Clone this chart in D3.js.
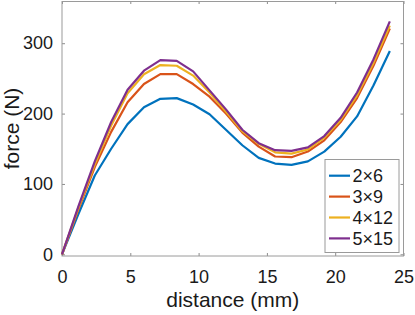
<!DOCTYPE html>
<html>
<head>
<meta charset="utf-8">
<script src="https://cdn.jsdelivr.net/npm/d3@7"></script>
<style>
body { margin: 0; background: #fff; }
text { font-family: "Liberation Sans", Arial, sans-serif; fill: #1a1a1a; }
</style>
</head>
<body>
<div id="chart"></div>
<script>
// Data
var distance    =   [ 0, 1.2, 2.4, 3.6, 4.8, 6.0, 7.2, 8.4, 9.6, 10.8, 12.0, 13.2, 14.4, 15.6, 16.8, 18.0, 19.2, 20.4, 21.6, 22.8, 24.0 ];
var force_2x6   =   [ 0, 57, 112, 150, 185, 209, 221, 222, 213, 199, 177, 155, 137, 129, 127, 132, 146, 167, 196, 240, 289 ];
var force_3x9   =   [ 0, 64, 124, 174, 216, 242, 256, 256, 242, 224, 200, 173, 153, 139, 138, 146, 162, 188, 222, 268, 321 ];
var force_4x12  =   [ 0, 66, 128, 183, 229, 256, 269, 268, 254, 230, 203, 175, 157, 145, 143, 149, 166, 191, 226, 272, 325 ];
var force_5x15  =   [ 0, 68, 132, 188, 234, 261, 276, 275, 260, 233, 206, 177, 158, 148, 147, 152, 168, 194, 230, 277, 331 ];
var names       =   [ "2×6", "3×9", "4×12", "5×15" ];
var colors      =   [ "#0072BD", "#D95319", "#EDB120", "#7E2F8E" ];
var x_ticks     =   [ 0, 5, 10, 15, 20, 25 ];
var y_ticks     =   [ 0, 100, 200, 300 ];

var series      =   [ force_2x6, force_3x9, force_4x12, force_5x15 ];

var chart_width     =   415;
var chart_height    =   315;
var plot_left = 62, plot_right = 403.5, plot_top = 1, plot_bottom = 256;

// Scales
var x_scale = d3.scaleLinear().domain([ 0, 25 ]).range([ plot_left, plot_right ]);
var y_scale = d3.scaleLinear().domain([ -2.4, 360 ]).range([ plot_bottom, plot_top ]);

// Create SVG
var svg = d3.select("#chart")
    .append("svg")
    .attr("width", chart_width)
    .attr("height", chart_height);

// Axes (ticks point inward, box drawn separately)
var x_axis = d3.axisBottom(x_scale).tickValues(x_ticks).tickSize(-3).tickSizeOuter(0).tickPadding(14);
var y_axis = d3.axisLeft(y_scale).tickValues(y_ticks).tickSize(-3).tickSizeOuter(0).tickPadding(9);
var x_top  = d3.axisTop(x_scale).tickValues(x_ticks).tickSize(-3).tickSizeOuter(0).tickFormat("");
var y_right = d3.axisRight(y_scale).tickValues(y_ticks).tickSize(-3).tickSizeOuter(0).tickFormat("");

function styleAxis(g) {
    g.select(".domain").remove();
    g.selectAll(".tick line").attr("stroke", "#8c8c8c");
    g.selectAll("text").attr("font-size", 18).attr("fill", "#1a1a1a")
        .attr("font-family", "Liberation Sans, Arial, sans-serif");
}

svg.append("g").attr("transform", "translate(0," + plot_bottom + ")").call(x_axis).call(styleAxis);
svg.append("g").attr("transform", "translate(" + plot_left + ",0)").call(y_axis).call(styleAxis);
svg.append("g").attr("transform", "translate(0," + plot_top + ")").call(x_top).call(styleAxis);
svg.append("g").attr("transform", "translate(" + plot_right + ",0)").call(y_right).call(styleAxis);

// Box
svg.append("rect")
    .attr("x", plot_left).attr("y", plot_top + 0.5)
    .attr("width", plot_right - plot_left).attr("height", plot_bottom - plot_top - 0.5)
    .attr("fill", "none").attr("stroke", "#9a9a9a").attr("stroke-width", 1);

// Lines
var line = d3.line()
    .x(function(d, i) { return x_scale(distance[i]); })
    .y(function(d) { return y_scale(d); });

svg.selectAll("path.series")
    .data(series)
    .enter()
    .append("path")
    .attr("class", "series")
    .attr("fill", "none")
    .attr("stroke", function(d, i) { return colors[i]; })
    .attr("stroke-width", 2.2)
    .attr("stroke-linejoin", "round")
    .attr("d", line);

// Axis labels
svg.append("text")
    .attr("x", (plot_left + plot_right) / 2)
    .attr("y", 307)
    .attr("text-anchor", "middle")
    .attr("font-size", 21)
    .text("distance (mm)");

svg.append("text")
    .attr("transform", "translate(19," + (plot_top + plot_bottom) / 2 + ") rotate(-90)")
    .attr("text-anchor", "middle")
    .attr("font-size", 21)
    .text("force (N)");

// Legend
var legend = svg.append("g");
legend.append("rect")
    .attr("x", 325).attr("y", 159.5)
    .attr("width", 74).attr("height", 93)
    .attr("fill", "#fff").attr("stroke", "#9a9a9a");

var items = legend.selectAll("g.item")
    .data(names)
    .enter()
    .append("g")
    .attr("class", "item")
    .attr("transform", function(d, i) { return "translate(0," + (175.7 + 20.9 * i) + ")"; });

items.append("line")
    .attr("x1", 329).attr("x2", 350)
    .attr("stroke", function(d, i) { return colors[i]; })
    .attr("stroke-width", 2.2);

items.append("text")
    .attr("x", 352.5)
    .attr("dy", "0.35em")
    .attr("font-size", 18)
    .text(function(d) { return d; });
</script>
</body>
</html>
